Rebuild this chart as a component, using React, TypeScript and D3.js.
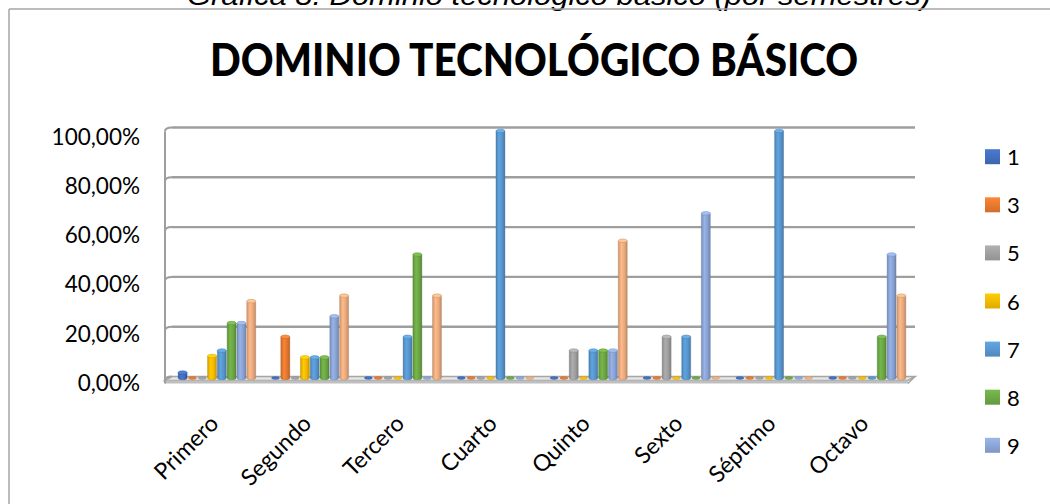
import React from "react";
import * as d3 from "d3";

const caption = "Gráfica 8. Dominio tecnológico básico (por semestres)";
const title = "DOMINIO TECNOLÓGICO BÁSICO";
const categories = ["Primero", "Segundo", "Tercero", "Cuarto", "Quinto", "Sexto", "Séptimo", "Octavo"];
const seriesNames = ["1", "3", "5", "6", "7", "8", "9", "10"];
const seriesColors = ["#4472C4", "#ED7D31", "#A5A5A5", "#FFC000", "#5B9BD5", "#70AD47", "#8FAADC", "#F4B183"];
const s1 = [0.022, 0, 0, 0, 0, 0, 0, 0];
const s3 = [0, 0.1667, 0, 0, 0, 0, 0, 0];
const s5 = [0, 0, 0, 0, 0.1111, 0.1667, 0, 0];
const s6 = [0.0889, 0.0833, 0, 0, 0, 0, 0, 0];
const s7 = [0.1111, 0.0833, 0.1667, 1, 0.1111, 0.1667, 1, 0];
const s8 = [0.2222, 0.0833, 0.5, 0, 0.1111, 0, 0, 0.1667];
const s9 = [0.2222, 0.25, 0, 0, 0.1111, 0.6667, 0, 0.5];
const s10 = [0.3111, 0.3333, 0.3333, 0, 0.5556, 0, 0, 0.3333];
const seriesValues = [s1, s3, s5, s6, s7, s8, s9, s10];
const yTicks = [0, 0.2, 0.4, 0.6, 0.8, 1];
const legendCount = 7; // legend entries visible in the reference (the 8th is cut off)

const FONT = "Lato, 'Open Sans', sans-serif";

export default function App() {
  const W = 1050, H = 504;
  const depthX = 7, depthY = 4;
  const wallLeft = 172, wallRight = 915;
  const yBack = d3.scaleLinear().domain([0, 1]).range([376.5, 127.5]);
  const yBar = d3.scaleLinear().domain([0, 1]).range([378, 131]);
  const yLabel = d3.scaleLinear().domain([0, 1]).range([382.3, 136.3]);
  const xGroup = d3.scaleBand<string>().domain(categories).range([170.5, 913.5]).padding(0);
  const groupInner = 78.4;
  const xSeries = d3.scaleBand<string>().domain(seriesNames).range([0, groupInner]).padding(0);
  const barW = 9;
  const rx = barW / 2, ry = 1.8;
  const fmt = (v: number) => d3.format(".2f")(v * 100).replace(".", ",") + "%";

  const gradId = (i: number) => `cyl-${i}`;
  const legId = (i: number) => `leg-${i}`;

  return (
    <svg width={W} height={H} style={{ position: "absolute", left: 0, top: 0, background: "#fff" }}>
      <defs>
        {seriesColors.map((c, i) => {
          const base = d3.color(c)!;
          return (
            <linearGradient key={i} id={gradId(i)} x1="0" x2="1" y1="0" y2="0">
              <stop offset="0" stopColor={base.darker(0.5).formatHex()} />
              <stop offset="0.35" stopColor={base.brighter(0.15).formatHex()} />
              <stop offset="0.7" stopColor={base.darker(0.15).formatHex()} />
              <stop offset="1" stopColor={base.darker(0.7).formatHex()} />
            </linearGradient>
          );
        })}
        {seriesColors.map((c, i) => {
          const base = d3.color(c)!;
          return (
            <linearGradient key={i} id={legId(i)} x1="0" x2="0" y1="0" y2="1">
              <stop offset="0" stopColor={base.brighter(0.2).formatHex()} />
              <stop offset="1" stopColor={base.darker(0.35).formatHex()} />
            </linearGradient>
          );
        })}
      </defs>

      {/* caption (cut off at the top, as in the reference) */}
      <text x={187} y={5} fontFamily="'Liberation Sans', Arial, sans-serif" fontStyle="italic" fontSize={27}
        textLength={744} lengthAdjust="spacingAndGlyphs" fill="#000">{caption}</text>

      {/* chart frame */}
      <line x1={9} y1={9} x2={W} y2={9} stroke="#a6a6a6" strokeWidth={1.5} />
      <line x1={9} y1={9} x2={9} y2={H} stroke="#a6a6a6" strokeWidth={1.5} />

      {/* title */}
      <text x={210} y={76} fontFamily={FONT} fontWeight={900} fontSize={45}
        textLength={648} lengthAdjust="spacingAndGlyphs" fill="#000">{title}</text>

      {/* floor */}
      <polygon points={`${wallLeft - depthX},${yBack(0) + depthY} ${wallLeft},${yBack(0)} ${wallRight},${yBack(0)} ${wallRight - depthX},${yBack(0) + depthY}`}
        fill="#e6e6e6" stroke="#a6a6a6" strokeWidth={1.5} />
      <rect x={wallLeft - depthX} y={yBack(0) + depthY} width={wallRight - wallLeft} height={3} fill="#bfbfbf" />
      <line x1={wallRight - depthX} y1={yBack(0) + depthY + 3} x2={wallRight} y2={yBack(0)} stroke="#a6a6a6" strokeWidth={1.5} />

      {/* gridlines on back wall and side wall */}
      {yTicks.map((t) => (
        <g key={t}>
          {t > 0 && (
            <line x1={wallLeft} y1={yBack(t)} x2={wallRight} y2={yBack(t)} stroke="#9e9e9e" strokeWidth={2.4} />
          )}
          <path d={`M${wallLeft - depthX},${yBack(t) + depthY} Q${wallLeft - depthX},${yBack(t)} ${wallLeft},${yBack(t)}`}
            fill="none" stroke="#9e9e9e" strokeWidth={2} />
        </g>
      ))}
      <line x1={wallLeft - depthX} y1={yBack(1) + depthY} x2={wallLeft - depthX} y2={yBack(0) + depthY + 3}
        stroke="#9e9e9e" strokeWidth={2} />

      {/* y-axis labels */}
      {yTicks.map((t) => (
        <text key={t} x={140} y={yLabel(t)} textAnchor="end" dominantBaseline="central"
          fontFamily={FONT} fontSize={22.5} fill="#000">{fmt(t)}</text>
      ))}

      {/* cylinders */}
      {categories.map((cat, ci) => {
        const gx = xGroup(cat)! + (xGroup.bandwidth() - groupInner) / 2;
        return (
          <g key={cat}>
            {seriesNames.map((s, si) => {
              const v = seriesValues[si][ci];
              const cx = gx + xSeries(s)! + xSeries.bandwidth() / 2;
              const base = d3.color(seriesColors[si])!;
              const y0 = yBar(0);
              if (v <= 0) {
                return (
                  <ellipse key={s} cx={cx} cy={y0} rx={rx - 0.5} ry={1.4}
                    fill={base.formatHex()} stroke={base.darker(0.6).formatHex()} strokeWidth={0.4} />
                );
              }
              const yt = yBar(v);
              return (
                <g key={s}>
                  <path d={`M${cx - rx},${yt} L${cx - rx},${y0} A${rx},${ry} 0 0 0 ${cx + rx},${y0} L${cx + rx},${yt} Z`}
                    fill={`url(#${gradId(si)})`} stroke={base.darker(0.9).formatHex()} strokeWidth={0.5} strokeOpacity={0.7} />
                  <ellipse cx={cx} cy={yt} rx={rx} ry={ry}
                    fill={base.brighter(0.35).formatHex()} stroke={base.darker(0.6).formatHex()} strokeWidth={0.5} />
                </g>
              );
            })}
          </g>
        );
      })}

      {/* category labels */}
      {categories.map((cat) => {
        const cx = xGroup(cat)! + xGroup.bandwidth() / 2 + 3;
        const cy = 425;
        return (
          <text key={cat} x={cx} y={cy} textAnchor="end" transform={`rotate(-45 ${cx} ${cy})`}
            fontFamily={FONT} fontSize={23} fill="#000">{cat}</text>
        );
      })}

      {/* legend */}
      {seriesNames.slice(0, legendCount).map((s, i) => {
        const cy = 156.7 + i * 48.1;
        return (
          <g key={s}>
            <rect x={985} y={cy - 7.5} width={15} height={15} fill={`url(#${legId(i)})`} />
            <text x={1007} y={cy} dominantBaseline="central" fontFamily={FONT} fontSize={22} fill="#000">{s}</text>
          </g>
        );
      })}
    </svg>
  );
}
